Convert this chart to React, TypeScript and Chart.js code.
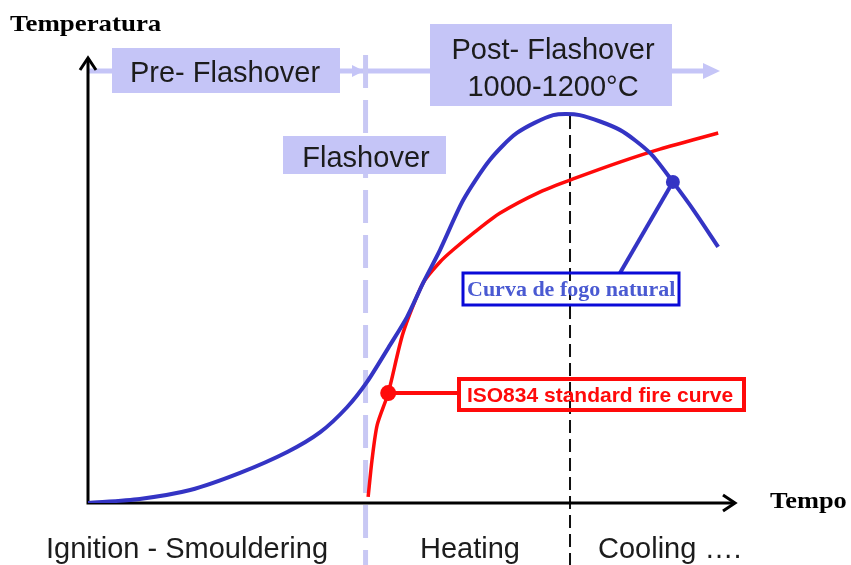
import React, { useEffect, useRef } from "react";
import { Chart, registerables } from "chart.js";

Chart.register(...registerables);

// ---- data (time in arbitrary units 0..100, temperature in °C) ----
const naturalTime = [0, 8.0, 15.8, 23.5, 30.8, 35.9, 40.0, 43.1, 46.7, 49.3, 51.8, 54.4, 58.0, 62.1, 66.3, 71.9, 76.0, 82.2, 86.9, 90.4, 93.8, 97.4];
const naturalTemp = [0, 12, 38, 88, 149, 207, 279, 353, 462, 543, 643, 739, 885, 1002, 1081, 1133, 1133, 1090, 1022, 938, 850, 748];
const isoTime = [43.3, 43.9, 44.7, 46.4, 48.7, 51.8, 54.4, 56.4, 59.8, 63.7, 69.9, 75.3, 82.2, 88.4, 97.4];
const isoTemp = [18, 126, 228, 321, 497, 643, 704, 739, 792, 847, 909, 949, 996, 1034, 1081];

const naturalMarkerIndex = 19;
const isoMarkerIndex = 3;

const flashoverTime = 42.9;
const peakTime = 74.5;

const seriesLabels = ["Curva de fogo natural", "ISO834 standard fire curve"];
const phaseLabels = ["Ignition - Smouldering", "Heating", "Cooling …."];
const axisTitles = ["Temperatura", "Tempo"];
const stageLabels = ["Pre- Flashover", "Flashover", "Post- Flashover", "1000-1200°C"];

const LAV = "rgb(197,197,247)";
const LAV_LINE = "rgb(200,200,244)";
const BLUE = "#3434c4";
const RED = "#ff0a0a";

const SANS = "'Liberation Sans', Arial, sans-serif";
const SERIF = "'Liberation Serif', 'Times New Roman', serif";

function chevron(ctx: CanvasRenderingContext2D, tx: number, ty: number, dir: "up" | "right", len: number, half: number) {
  ctx.beginPath();
  if (dir === "up") {
    ctx.moveTo(tx - half, ty + len);
    ctx.lineTo(tx, ty);
    ctx.lineTo(tx + half, ty + len);
  } else {
    ctx.moveTo(tx - len, ty - half);
    ctx.lineTo(tx, ty);
    ctx.lineTo(tx - len, ty + half);
  }
  ctx.stroke();
}

function wideText(ctx: CanvasRenderingContext2D, text: string, x: number, y: number, sx: number) {
  ctx.save();
  ctx.translate(x, y);
  ctx.scale(sx, 1);
  ctx.fillText(text, 0, 0);
  ctx.restore();
}

const decorPlugin = {
  id: "decor",
  beforeDatasetsDraw(chart: any) {
    const ctx: CanvasRenderingContext2D = chart.ctx;
    const xs = chart.scales.x;
    const ys = chart.scales.y;
    const x0 = xs.getPixelForValue(0);
    const y0 = ys.getPixelForValue(0);
    const xEnd = xs.getPixelForValue(100);
    const yTop = ys.getPixelForValue(1300);
    const xf = xs.getPixelForValue(flashoverTime);
    const xp = xs.getPixelForValue(peakTime);
    ctx.save();

    // lavender timeline arrow
    ctx.strokeStyle = LAV;
    ctx.fillStyle = LAV;
    ctx.lineWidth = 5;
    ctx.beginPath();
    ctx.moveTo(x0, 71);
    ctx.lineTo(706, 71);
    ctx.stroke();
    ctx.beginPath();
    ctx.moveTo(703, 63);
    ctx.lineTo(720, 71);
    ctx.lineTo(703, 79);
    ctx.closePath();
    ctx.fill();
    ctx.beginPath();
    ctx.moveTo(352, 65);
    ctx.lineTo(364, 71);
    ctx.lineTo(352, 77);
    ctx.closePath();
    ctx.fill();

    // lavender dashed flashover line
    ctx.strokeStyle = LAV_LINE;
    ctx.lineWidth = 5;
    ctx.setLineDash([33, 12]);
    ctx.beginPath();
    ctx.moveTo(xf, 55);
    ctx.lineTo(xf, 565);
    ctx.stroke();
    ctx.setLineDash([]);

    // stage boxes
    ctx.fillStyle = LAV;
    ctx.fillRect(112, 48, 228, 45);
    ctx.fillRect(283, 136, 163, 38);
    ctx.fillRect(430, 24, 242, 82);
    ctx.fillStyle = "#1c1c1c";
    ctx.textAlign = "center";
    ctx.textBaseline = "alphabetic";
    ctx.font = `29px ${SANS}`;
    ctx.fillText(stageLabels[0], 225, 82);
    ctx.fillText(stageLabels[1], 366, 167);
    ctx.fillText(stageLabels[2], 553, 59);
    ctx.fillText(stageLabels[3], 553, 96);

    // black dashed peak line
    ctx.strokeStyle = "#111";
    ctx.lineWidth = 2;
    ctx.setLineDash([13, 6]);
    ctx.beginPath();
    ctx.moveTo(xp, 116);
    ctx.lineTo(xp, 565);
    ctx.stroke();
    ctx.setLineDash([]);

    // axes
    ctx.strokeStyle = "#000";
    ctx.lineWidth = 3;
    ctx.beginPath();
    ctx.moveTo(x0, y0);
    ctx.lineTo(x0, yTop);
    ctx.moveTo(x0 - 1.5, y0);
    ctx.lineTo(xEnd, y0);
    ctx.stroke();
    chevron(ctx, x0, yTop, "up", 12, 8);
    chevron(ctx, xEnd, y0, "right", 12, 8);

    ctx.restore();
  },
  afterDatasetsDraw(chart: any) {
    const ctx: CanvasRenderingContext2D = chart.ctx;
    const nat = chart.getDatasetMeta(0).data[naturalMarkerIndex];
    const iso = chart.getDatasetMeta(1).data[isoMarkerIndex];
    ctx.save();

    // natural fire callout
    ctx.strokeStyle = BLUE;
    ctx.lineWidth = 4;
    ctx.beginPath();
    ctx.moveTo(nat.x, nat.y);
    ctx.lineTo(620, 273);
    ctx.stroke();
    ctx.strokeStyle = "#0a0ad8";
    ctx.lineWidth = 3;
    ctx.strokeRect(463, 273, 216, 32);
    ctx.fillStyle = "#4a5ad2";
    ctx.font = `bold 20px ${SERIF}`;
    ctx.textAlign = "left";
    wideText(ctx, seriesLabels[0], 467, 296, 1.1);

    // ISO callout
    ctx.strokeStyle = RED;
    ctx.lineWidth = 4;
    ctx.beginPath();
    ctx.moveTo(iso.x, iso.y);
    ctx.lineTo(458, iso.y);
    ctx.stroke();
    ctx.strokeRect(459, 379, 285, 31);
    ctx.fillStyle = RED;
    ctx.font = `bold 21px ${SANS}`;
    ctx.textAlign = "center";
    ctx.fillText(seriesLabels[1], 600, 402);

    // phase labels
    ctx.fillStyle = "#1c1c1c";
    ctx.font = `29px ${SANS}`;
    ctx.fillText(phaseLabels[0], 187, 558);
    ctx.fillText(phaseLabels[1], 470, 558);
    ctx.textAlign = "left";
    ctx.fillText(phaseLabels[2], 598, 558);

    // axis titles
    ctx.fillStyle = "#000";
    ctx.font = `bold 24px ${SERIF}`;
    ctx.textAlign = "left";
    wideText(ctx, axisTitles[0], 10, 31, 1.12);
    wideText(ctx, axisTitles[1], 770, 508, 1.1);

    ctx.restore();
  },
};

export default function App() {
  const ref = useRef<HTMLCanvasElement | null>(null);
  useEffect(() => {
    document.body.style.margin = "0";
    const canvas = ref.current;
    if (!canvas) return;
    const natural = naturalTime.map((t, i) => ({ x: t, y: naturalTemp[i] }));
    const isoPts = isoTime.map((t, i) => ({ x: t, y: isoTemp[i] }));
    const chart = new Chart(canvas, {
      type: "line",
      data: {
        datasets: [
          {
            label: seriesLabels[0],
            data: natural,
            borderColor: BLUE,
            backgroundColor: BLUE,
            borderWidth: 4,
            tension: 0.25,
            pointRadius: natural.map((_, i) => (i === naturalMarkerIndex ? 7 : 0)),
            pointBorderWidth: 0,
            fill: false,
          },
          {
            label: seriesLabels[1],
            data: isoPts,
            borderColor: RED,
            backgroundColor: RED,
            borderWidth: 3.5,
            tension: 0.25,
            pointRadius: isoPts.map((_, i) => (i === isoMarkerIndex ? 8 : 0)),
            pointBorderWidth: 0,
            fill: false,
          },
        ],
      },
      options: {
        animation: false,
        responsive: false,
        devicePixelRatio: 1,
        layout: { padding: { left: 88, right: 116, top: 58, bottom: 62 } },
        scales: {
          x: { type: "linear", min: 0, max: 100, display: false },
          y: { type: "linear", min: 0, max: 1300, display: false },
        },
        plugins: { legend: { display: false }, tooltip: { enabled: false } },
        events: [],
      },
      plugins: [decorPlugin],
    });
    return () => chart.destroy();
  }, []);
  return <canvas ref={ref} width={851} height={565} style={{ display: "block" }} />;
}
